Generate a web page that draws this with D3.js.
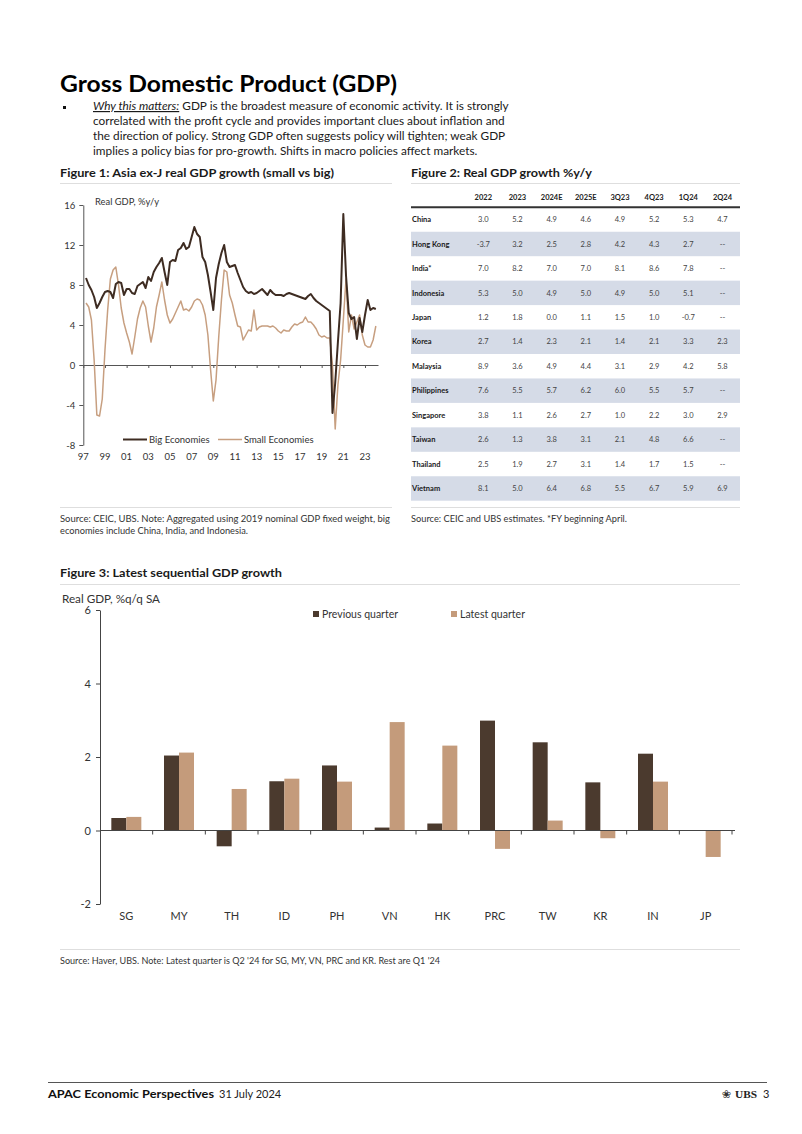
<!DOCTYPE html>
<html><head><meta charset="utf-8">
<script src="https://cdn.jsdelivr.net/npm/d3@7"></script>
<style>
body{margin:0;background:#fff;}
svg text{font-family:Lato,"Open Sans",sans-serif;}
</style></head>
<body><svg id="page" width="802" height="1134"></svg>
<script>
// ---------------- DATA ----------------
// Figure 1: quarterly real GDP %y/y, 1997Q2 .. 2024Q1
const firstQuarter = 1997.25; // 1997Q2
const bigEconomies = [
  8.7, 8.0, 7.5,
  6.8, 5.7, 6.2, 6.8,
  7.3, 7.4, 7.3, 6.7,
  8.1, 8.3, 8.2, 7.0,
  7.6, 7.6, 7.2, 7.1,
  7.9, 8.1, 8.3, 7.7,
  8.8, 8.4, 9.3, 9.8,
  10.2, 10.7, 9.3, 8.0,
  10.3, 10.5, 10.4, 11.5,
  11.7, 12.2, 11.6, 11.8,
  12.8, 13.8, 13.1, 12.8,
  10.8, 10.3, 9.0, 7.3,
  5.5, 8.7, 10.1, 11.2,
  12.0, 10.3, 9.8, 9.9,
  10.0, 9.2, 8.5, 7.8,
  7.4, 7.2, 7.3, 7.1,
  7.2, 7.4, 7.6, 7.3,
  7.0, 7.5, 7.2, 7.0,
  7.0, 7.0, 6.9, 7.1,
  7.2, 7.1, 7.0, 6.9,
  6.8, 6.7, 6.6, 6.9,
  7.1, 6.7, 6.4, 6.2,
  6.0, 5.8, 5.6, 5.4,
  -4.8, -1.8, 2.3, 6.2,
  15.1, 8.9, 5.2, 4.6,
  4.8, 2.6, 4.7, 3.3,
  5.0, 6.5, 5.5, 5.7,
  5.6
];
const smallEconomies = [
  6.2, 5.8, 4.5,
  0.5, -5.0, -5.1, -3.4,
  1.5, 5.5, 8.6, 9.5,
  9.8, 8.0, 5.7, 4.2,
  3.2, 2.3, 1.1, 2.8,
  4.6, 5.7, 6.4, 5.8,
  3.9, 2.3, 3.7, 5.8,
  7.0, 8.3, 6.5, 5.0,
  4.2, 4.6, 5.2, 5.8,
  6.4, 5.5, 5.6, 5.4,
  5.8, 6.4, 6.6, 6.5,
  6.0, 5.0, 3.0, -0.5,
  -3.6, -1.5, 2.8, 6.5,
  9.5, 9.3, 7.0, 6.2,
  5.0, 3.9, 3.8, 2.5,
  3.0, 3.5, 3.4, 5.5,
  3.5, 3.8, 3.9, 3.9,
  3.9, 3.8, 3.9, 3.7,
  3.4, 3.2, 3.5, 3.4,
  3.4, 3.8, 4.1, 4.0,
  4.2, 4.3, 4.8, 4.3,
  4.3, 4.0, 3.6, 3.0,
  2.8, 2.9, 2.7, 2.7,
  0.0, -6.4, -2.0, 0.5,
  4.5, 8.6, 3.3, 5.0,
  3.6, 4.3, 5.0, 3.0,
  2.0, 1.8, 1.8, 2.5,
  3.9
];
const fig1YTicks = [-8, -4, 0, 4, 8, 12, 16];
const fig1XTickYears = [1997,1999,2001,2003,2005,2007,2009,2011,2013,2015,2017,2019,2021,2023];
const fig1XTickLabels = ["97","99","01","03","05","07","09","11","13","15","17","19","21","23"];
const fig1Series = ["Big Economies", "Small Economies"];

// Figure 2: table
const tableColumns = ["2022","2023","2024E","2025E","3Q23","4Q23","1Q24","2Q24"];
const tableCountries = ["China","Hong Kong","India*","Indonesia","Japan","Korea","Malaysia","Philippines","Singapore","Taiwan","Thailand","Vietnam"];
const tableValues = [
  ["3.0","5.2","4.9","4.6","4.9","5.2","5.3","4.7"],
  ["-3.7","3.2","2.5","2.8","4.2","4.3","2.7","--"],
  ["7.0","8.2","7.0","7.0","8.1","8.6","7.8","--"],
  ["5.3","5.0","4.9","5.0","4.9","5.0","5.1","--"],
  ["1.2","1.8","0.0","1.1","1.5","1.0","-0.7","--"],
  ["2.7","1.4","2.3","2.1","1.4","2.1","3.3","2.3"],
  ["8.9","3.6","4.9","4.4","3.1","2.9","4.2","5.8"],
  ["7.6","5.5","5.7","6.2","6.0","5.5","5.7","--"],
  ["3.8","1.1","2.6","2.7","1.0","2.2","3.0","2.9"],
  ["2.6","1.3","3.8","3.1","2.1","4.8","6.6","--"],
  ["2.5","1.9","2.7","3.1","1.4","1.7","1.5","--"],
  ["8.1","5.0","6.4","6.8","5.5","6.7","5.9","6.9"]
];

// Figure 3: sequential GDP growth
const barCategories = ["SG","MY","TH","ID","PH","VN","HK","PRC","TW","KR","IN","JP"];
const previousQuarter = [0.34, 2.04, -0.43, 1.34, 1.77, 0.08, 0.19, 2.99, 2.40, 1.31, 2.09, 0.0];
const latestQuarter   = [0.37, 2.12, 1.13, 1.41, 1.33, 2.95, 2.31, -0.50, 0.27, -0.21, 1.33, -0.72];
const fig3YTicks = [-2, 0, 2, 4, 6];
const fig3Series = ["Previous quarter", "Latest quarter"];

// ---------------- STYLE ----------------
const DARK = "#3e2c22", TAN = "#c79f80";
const BAR_DARK = "#4b3a2e", BAR_TAN = "#c49b7b";
const INK = "#1a1a1a", RULE = "#dedede";
const plainNum = d => String(d);

const svg = d3.select("#page");
svg.append("rect").attr("width", 802).attr("height", 1134).attr("fill", "#fff");

function fitWidth(t, w) {
  const n = t.node().getComputedTextLength();
  if (w && Math.abs(n - w) > w * 0.015) t.attr("textLength", w).attr("lengthAdjust", "spacingAndGlyphs");
  return t;
}
function addText(p, x, y, s, o = {}) {
  const t = p.append("text").attr("x", x).attr("y", y)
    .attr("font-size", o.size || 11).attr("font-weight", o.weight || "normal")
    .attr("text-anchor", o.anchor || "start").attr("fill", o.fill || INK).text(s);
  if (o.family) t.style("font-family", o.family);
  if (o.width) fitWidth(t, o.width);
  return t;
}
function rule(x1, x2, y, color, w) {
  svg.append("line").attr("x1", x1).attr("x2", x2).attr("y1", y).attr("y2", y)
    .attr("stroke", color || RULE).attr("stroke-width", w || 1);
}

// ---------------- HEADER ----------------
addText(svg, 60, 92, "Gross Domestic Product (GDP)", {size: 23, weight: "bold", width: 337, fill: "#000"});
svg.append("rect").attr("x", 63).attr("y", 106).attr("width", 3).attr("height", 3).attr("fill", "#111");
const bodyLines = [
  null,
  "correlated with the profit cycle and provides important clues about inflation and",
  "the direction of policy. Strong GDP often suggests policy will tighten; weak GDP",
  "implies a policy bias for pro-growth. Shifts in macro policies affect markets."
];
const bodyWidths = [413, 414, 413, 383];
const l1 = svg.append("text").attr("x", 93).attr("y", 110).attr("font-size", 11.8).attr("fill", INK);
l1.append("tspan").attr("font-style", "italic").attr("text-decoration", "underline").text("Why this matters:");
l1.append("tspan").text(" GDP is the broadest measure of economic activity. It is strongly");
fitWidth(l1, bodyWidths[0]);
for (let i = 1; i < 4; i++) addText(svg, 93, 110 + 15 * i, bodyLines[i], {size: 11.8, width: bodyWidths[i]});

// ---------------- FIGURE 1 ----------------
addText(svg, 60, 177, "Figure 1: Asia ex-J real GDP growth (small vs big)", {size: 10.8, weight: "bold", width: 274});
rule(60, 392, 183.5);
const g1 = svg.append("g");
const x1 = d3.scaleLinear().domain([1997, 2024.2]).range([83.3, 378]);
const y1 = d3.scaleLinear().domain([-8, 16]).range([445, 205]);
const quarters = bigEconomies.map((_, i) => firstQuarter + i * 0.25);

addText(g1, 95, 205, "Real GDP, %y/y", {size: 9, width: 64, fill: "#333"});

const yAx1 = g1.append("g").attr("transform", `translate(${x1(1997)},0)`)
  .call(d3.axisLeft(y1).tickValues(fig1YTicks).tickSize(4).tickSizeOuter(0).tickPadding(4).tickFormat(plainNum));
yAx1.selectAll("text").attr("font-size", 9.5).attr("fill", "#333").attr("font-family", "Lato");
yAx1.selectAll("line,path").attr("stroke", "#555");

const xAx1 = g1.append("g").attr("transform", `translate(0,${y1(0)})`)
  .call(d3.axisBottom(x1).tickValues(fig1XTickYears).tickSize(3).tickSizeOuter(0).tickFormat(""));
xAx1.selectAll("line,path").attr("stroke", "#555");
g1.selectAll(".xl").data(fig1XTickYears).join("text").attr("class", "xl")
  .attr("x", d => x1(d)).attr("y", 460).attr("text-anchor", "middle")
  .attr("font-size", 9.5).attr("fill", "#333").text((d, i) => fig1XTickLabels[i]);

const line1 = d3.line().x((d, i) => x1(quarters[i])).y(d => y1(d));
g1.append("path").datum(smallEconomies).attr("d", line1).attr("fill", "none")
  .attr("stroke", TAN).attr("stroke-width", 1.5).attr("stroke-linejoin", "round");
g1.append("path").datum(bigEconomies).attr("d", line1).attr("fill", "none")
  .attr("stroke", DARK).attr("stroke-width", 2).attr("stroke-linejoin", "round");

// legend
const leg1 = [{x: 123, c: DARK, w: 2, tw: 61}, {x: 218, c: TAN, w: 1.5, tw: 70}];
leg1.forEach((l, i) => {
  g1.append("line").attr("x1", l.x).attr("x2", l.x + 24).attr("y1", 439.5).attr("y2", 439.5)
    .attr("stroke", l.c).attr("stroke-width", l.w);
  addText(g1, l.x + 26, 442.8, fig1Series[i], {size: 9.5, width: l.tw, fill: "#333"});
});
rule(60, 392, 507.5);
addText(svg, 60, 522, "Source: CEIC, UBS. Note: Aggregated using 2019 nominal GDP fixed weight, big", {size: 8.5, width: 330, fill: "#333"});
addText(svg, 60, 534, "economies include China, India, and Indonesia.", {size: 8.5, width: 188, fill: "#333"});

// ---------------- FIGURE 2 ----------------
addText(svg, 411, 177, "Figure 2: Real GDP growth %y/y", {size: 10.8, weight: "bold", width: 181});
rule(411, 740, 183.5);
const g2 = svg.append("g");
const colX = d3.scalePoint().domain(tableColumns).range([483.3, 722.5]);
const rowY = d3.scaleBand().domain(tableCountries).range([207.3, 500.7]);
g2.selectAll(".band").data(tableCountries.filter((d, i) => i % 2 === 1)).join("rect")
  .attr("x", 411).attr("width", 329).attr("y", d => rowY(d)).attr("height", rowY.bandwidth())
  .attr("fill", "#d5dbe7");
g2.selectAll(".hdr").data(tableColumns).join("text")
  .attr("x", d => colX(d)).attr("y", 199.5).attr("text-anchor", "middle")
  .attr("font-size", 7.5).attr("font-weight", "bold").attr("fill", "#222").text(d => d);
g2.append("line").attr("x1", 411).attr("x2", 740).attr("y1", 207.3).attr("y2", 207.3)
  .attr("stroke", "#333").attr("stroke-width", 2);
tableCountries.forEach((c, r) => {
  const cy = rowY(c) + rowY.bandwidth() / 2 + 2.7;
  addText(g2, 412, cy, c, {size: 7.5, weight: "bold", fill: "#1a1a1a"});
  tableColumns.forEach((col, k) => {
    addText(g2, colX(col), cy, tableValues[r][k], {size: 7.5, anchor: "middle", fill: "#444"});
  });
});
rule(411, 740, 507.5);
addText(svg, 411, 522, "Source: CEIC and UBS estimates.  *FY beginning April.", {size: 8.5, width: 216, fill: "#333"});

// ---------------- FIGURE 3 ----------------
addText(svg, 60, 577, "Figure 3: Latest sequential GDP growth", {size: 10.8, weight: "bold", width: 222});
rule(60, 740, 584.5);
const g3 = svg.append("g");
const x3 = d3.scaleBand().domain(barCategories).range([100, 732]);
const y3 = d3.scaleLinear().domain([-2, 6]).range([904, 610]);
addText(g3, 62, 603, "Real GDP, %q/q SA", {size: 10.5, width: 98, fill: "#333"});

const bw = 15;
g3.selectAll(".prev").data(barCategories).join("rect")
  .attr("x", d => x3(d) + x3.bandwidth() / 2 - bw).attr("width", bw)
  .attr("y", (d, i) => y3(Math.max(0, previousQuarter[i])))
  .attr("height", (d, i) => Math.abs(y3(previousQuarter[i]) - y3(0)))
  .attr("fill", BAR_DARK);
g3.selectAll(".late").data(barCategories).join("rect")
  .attr("x", d => x3(d) + x3.bandwidth() / 2).attr("width", bw)
  .attr("y", (d, i) => y3(Math.max(0, latestQuarter[i])))
  .attr("height", (d, i) => Math.abs(y3(latestQuarter[i]) - y3(0)))
  .attr("fill", BAR_TAN);

const yAx3 = g3.append("g").attr("transform", "translate(100,0)")
  .call(d3.axisLeft(y3).tickValues(fig3YTicks).tickSize(4).tickSizeOuter(0).tickPadding(5).tickFormat(plainNum));
yAx3.selectAll("text").attr("font-size", 11).attr("fill", "#333").attr("font-family", "Lato");
yAx3.selectAll("line,path").attr("stroke", "#444");

g3.append("line").attr("x1", 100).attr("x2", 735).attr("y1", y3(0)).attr("y2", y3(0)).attr("stroke", "#444");
g3.selectAll(".tk").data(barCategories.slice(1).concat(["end"])).join("line")
  .attr("x1", (d, i) => x3.range()[0] + x3.step() * (i + 1)).attr("x2", (d, i) => x3.range()[0] + x3.step() * (i + 1))
  .attr("y1", y3(0)).attr("y2", y3(0) + 4).attr("stroke", "#444");
g3.selectAll(".cat").data(barCategories).join("text")
  .attr("x", d => x3(d) + x3.bandwidth() / 2).attr("y", 920).attr("text-anchor", "middle")
  .attr("font-size", 11).attr("fill", "#333").text(d => d);

const leg3 = [{x: 313, c: BAR_DARK, tw: 76}, {x: 451, c: BAR_TAN, tw: 65}];
leg3.forEach((l, i) => {
  g3.append("rect").attr("x", l.x).attr("y", 611).attr("width", 6).attr("height", 6).attr("fill", l.c);
  addText(g3, l.x + 9, 618, fig3Series[i], {size: 11, width: l.tw, fill: "#333"});
});
rule(60, 740, 949.5);
addText(svg, 60, 964, "Source: Haver, UBS. Note: Latest quarter is Q2 '24 for SG, MY, VN, PRC and KR. Rest are Q1 '24", {size: 8.5, width: 380, fill: "#333"});

// ---------------- FOOTER ----------------
rule(48, 767, 1082.5, "#555", 1);
addText(svg, 48, 1098, "APAC Economic Perspectives", {size: 11, weight: "bold", width: 166, fill: "#111"});
addText(svg, 219, 1098, "31 July 2024", {size: 11, width: 62, fill: "#222"});
addText(svg, 722, 1098, "\u2740", {size: 11, family: "'DejaVu Sans'", fill: "#333"});
addText(svg, 735, 1098, "UBS", {size: 11, weight: "bold", family: "'Liberation Serif', serif", fill: "#222", width: 22});
addText(svg, 763, 1098, "3", {size: 11, fill: "#222"});
</script>
</body></html>
